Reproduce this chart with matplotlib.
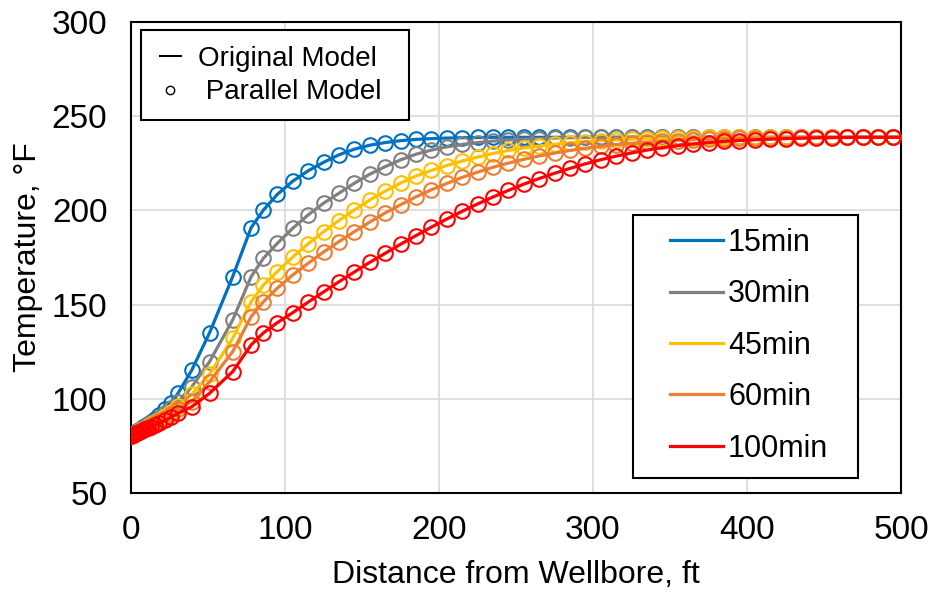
import matplotlib.pyplot as plt
from matplotlib.lines import Line2D
from matplotlib.patches import Rectangle

plt.rcParams['font.family'] = ['Liberation Sans', 'DejaVu Sans']

# distance from wellbore, ft
dist = [0, 0.5, 1, 1.6, 2.3, 3.1, 4, 5, 6.2, 7.6, 9.2, 11, 13, 15.5, 18.5, 22, 26, 30.5,
        39.5, 51, 66, 78, 86,
        95, 105, 115, 125, 135, 145, 155, 165, 175, 185, 195, 205, 215, 225, 235, 245,
        255, 265, 275, 285, 295, 305, 315, 325, 335, 345, 355, 365, 375, 385, 395, 405,
        415, 425, 435, 445, 455, 465, 475, 485, 495,
        500]

# temperature, F
t15 = [80.5, 80.8, 81.1, 81.5, 81.9, 82.3, 82.8, 83.3, 84.0, 84.8, 85.7, 86.7, 87.9, 89.5, 91.6, 94.5, 98.0, 102.9,
       115.3, 135.0, 164.8, 190.8, 200.2,
       208.5, 215.5, 221.0, 225.5, 229.5, 232.5, 234.6, 236.0, 237.0, 237.7, 238.1, 238.4, 238.6, 238.7, 238.8, 238.8,
       238.8, 238.8, 238.8, 238.8, 238.8, 238.8, 238.8, 238.8, 238.8, 238.8, 238.8, 238.8, 238.8, 238.8, 238.8, 238.8,
       238.8, 238.8, 238.8, 238.8, 238.8, 238.8, 238.8, 238.8, 238.8,
       238.8]
t30 = [80.5, 80.7, 81.0, 81.3, 81.7, 82.1, 82.5, 83.0, 83.6, 84.3, 85.0, 85.9, 86.9, 88.2, 90.0, 92.3, 95.0, 98.5,
       106.4, 119.7, 141.8, 164.8, 174.6,
       182.5, 190.5, 197.6, 203.8, 209.1, 214.4, 219.2, 223.2, 226.8, 229.8, 232.0, 233.7, 235.0, 236.0, 236.8, 237.4,
       237.8, 238.1, 238.4, 238.6, 238.7, 238.8, 238.8, 238.8, 238.8, 238.8, 238.8, 238.8, 238.8, 238.8, 238.8, 238.8,
       238.8, 238.8, 238.8, 238.8, 238.8, 238.8, 238.8, 238.8, 238.8,
       238.8]
t45 = [80.5, 80.7, 80.9, 81.2, 81.5, 81.9, 82.3, 82.8, 83.3, 84.0, 84.7, 85.5, 86.4, 87.6, 89.0, 90.8, 93.0, 96.0,
       102.5, 113.0, 132.1, 151.5, 160.4,
       167.5, 175.2, 182.3, 188.6, 194.6, 200.2, 205.5, 210.2, 214.5, 218.2, 221.2, 223.8, 226.2, 228.3, 230.2, 231.8,
       233.1, 234.2, 235.1, 235.9, 236.5, 237.0, 237.4, 237.8, 238.1, 238.3, 238.5, 238.6, 238.7, 238.8, 238.8, 238.8,
       238.8, 238.8, 238.8, 238.8, 238.8, 238.8, 238.8, 238.8, 238.8,
       238.8]
t60 = [80.5, 80.7, 80.9, 81.1, 81.4, 81.8, 82.2, 82.6, 83.1, 83.7, 84.4, 85.1, 86.0, 87.1, 88.4, 90.0, 92.0, 94.5,
       98.5, 109.1, 125.0, 143.6, 151.5,
       158.7, 165.7, 171.9, 177.9, 183.4, 188.7, 193.8, 198.6, 203.0, 207.2, 210.9, 214.3, 217.5, 220.3, 222.9, 225.1,
       227.1, 228.9, 230.4, 231.8, 233.0, 234.0, 234.9, 235.6, 236.2, 236.7, 237.1, 237.5, 237.8, 238.0, 238.2, 238.4,
       238.5, 238.6, 238.7, 238.8, 238.8, 238.8, 238.8, 238.8, 238.8,
       238.8]
t100 = [80.5, 80.6, 80.8, 81.0, 81.3, 81.6, 81.9, 82.3, 82.7, 83.2, 83.8, 84.4, 85.1, 86.0, 87.1, 88.5, 90.2, 92.3,
        95.8, 102.9, 114.4, 128.6, 135.0,
        140.4, 145.7, 151.3, 156.7, 162.1, 167.3, 172.4, 177.2, 182.0, 186.6, 191.1, 195.4, 199.5, 203.4, 207.1, 210.6,
        213.9, 216.9, 219.7, 222.3, 224.7, 226.9, 228.8, 230.5, 232.0, 233.3, 234.4, 235.3, 236.0, 236.6, 237.1, 237.5,
        237.8, 238.1, 238.3, 238.5, 238.6, 238.7, 238.8, 238.8, 238.8,
        238.8]

times = ["15min", "30min", "45min", "60min", "100min"]
colors = ["#0070C0", "#808080", "#FFC000", "#ED7D31", "#FF0000"]


def plot():
    fig = plt.figure(figsize=(9.31, 5.96), dpi=100)
    ax = fig.add_axes([131 / 931, 1 - 493 / 596, 770 / 931, 471 / 596])

    series = [t15, t30, t45, t60, t100]
    for temp, col in zip(series, colors):
        ax.plot(dist, temp, "-", color=col, lw=2.3, zorder=3)
        ax.plot(dist[:-1], temp[:-1], "o", mfc="none", mec=col, mew=1.5, ms=10.5, zorder=3)

    ax.set_xlim(0, 500)
    ax.set_ylim(50, 300)
    ax.set_xticks([0, 100, 200, 300, 400, 500])
    ax.set_yticks([50, 100, 150, 200, 250, 300])
    ax.grid(True, color="#D9D9D9", lw=1.2)
    ax.set_axisbelow(True)
    ax.tick_params(length=0, labelsize=24)
    ax.tick_params(axis="y", pad=17)
    ax.tick_params(axis="x", pad=16)
    for s in ax.spines.values():
        s.set_color("black")
        s.set_linewidth(1.5)

    ax.set_xlabel("Distance from Wellbore, ft", fontsize=23, labelpad=10)
    ax.set_ylabel("Temperature, °F", fontsize=23, labelpad=6)

    # model legend box
    ax.add_patch(Rectangle(((141 - 131) / 770, (493 - 120) / 471), 268 / 770, 90 / 471,
                           transform=ax.transAxes, fc="white", ec="black", lw=1.5, zorder=5))
    h1 = [Line2D([], [], color="black", lw=1.5),
          Line2D([], [], ls="none", marker="o", mfc="none", mec="black", ms=6, mew=1)]
    leg1 = ax.legend(h1, ["Original Model", " Parallel Model"], loc="upper left",
                     bbox_to_anchor=((160 - 131) / 770, (493 - 46) / 471), frameon=False,
                     fontsize=20, handlelength=0.75, handletextpad=0.6, labelspacing=0.26,
                     borderpad=0, borderaxespad=0)
    leg1.set_zorder(6)
    ax.add_artist(leg1)

    # time legend box
    ax.add_patch(Rectangle(((633 - 131) / 770, (493 - 478) / 471), 225 / 770, 263 / 471,
                           transform=ax.transAxes, fc="white", ec="black", lw=1.5, zorder=5))
    h2 = [Line2D([], [], color=c, lw=2.3) for c in colors]
    leg2 = ax.legend(h2, times, loc="upper left",
                     bbox_to_anchor=((670 - 131) / 770, (493 - 228) / 471), frameon=False,
                     fontsize=22, handlelength=1.75, handletextpad=0.15, labelspacing=0.7,
                     borderpad=0, borderaxespad=0)
    leg2.set_zorder(6)

    fig.savefig("out.png", dpi=100)


def main():
    plot()


if __name__ == '__main__':
    main()
